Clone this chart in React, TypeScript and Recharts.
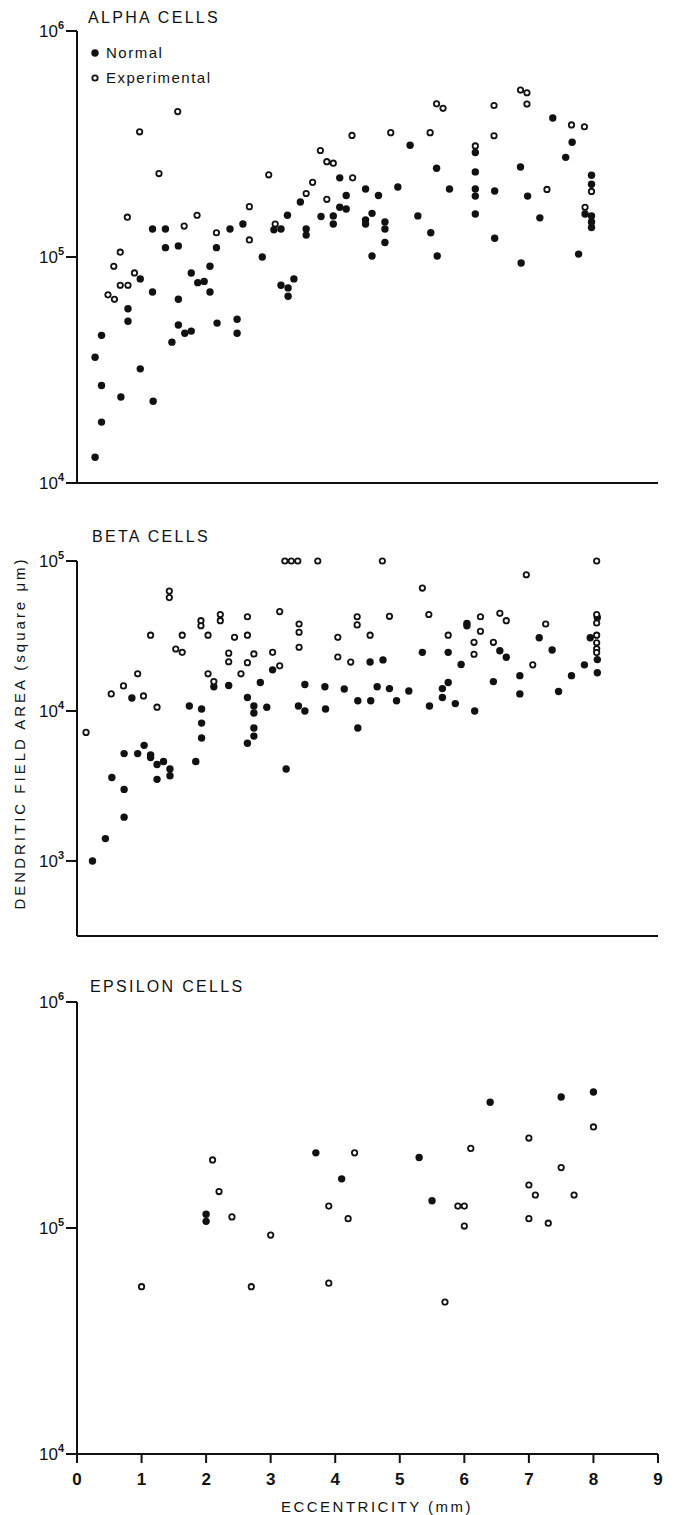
import { Scatter, ScatterChart, XAxis, YAxis } from 'recharts'

// eccentricity (mm), dendritic field area (square µm)
const alphaNormal: [number, number][] = [
  [0.28, 13000], [0.28, 36000], [0.38, 18600], [0.38, 27000], [0.38, 45000],
  [0.68, 24000], [0.79, 52000], [0.79, 59000], [0.98, 80000], [0.98, 32000],
  [1.17, 70000], [1.18, 23000], [1.17, 133000], [1.37, 133000], [1.37, 110000],
  [1.57, 112000], [1.47, 42000], [1.57, 50000], [1.57, 65000], [1.67, 46000],
  [1.77, 47000], [1.77, 85000], [1.87, 77000], [1.97, 78000], [2.06, 91000],
  [2.06, 70000], [2.16, 110000], [2.17, 51000], [2.37, 133000], [2.48, 53000],
  [2.48, 46000], [2.57, 140000], [2.87, 100000], [3.05, 132000], [3.16, 133000],
  [3.16, 75000], [3.27, 73000], [3.27, 67000], [3.36, 80000], [3.26, 153000],
  [3.46, 175000], [3.55, 133000], [3.55, 125000], [3.78, 151000], [3.97, 152000],
  [3.97, 140000], [4.07, 224000], [4.17, 187000], [4.07, 166000], [4.17, 163000],
  [4.47, 200000], [4.47, 146000], [4.47, 140000], [4.57, 156000], [4.57, 101000],
  [4.67, 187000], [4.77, 143000], [4.77, 133000], [4.77, 116000], [4.97, 204000],
  [5.16, 312000], [5.28, 152000], [5.48, 128000], [5.58, 101000], [5.57, 247000],
  [5.77, 200000], [6.17, 290000], [6.17, 238000], [6.17, 200000], [6.17, 186000],
  [6.17, 155000], [6.47, 196000], [6.47, 121000], [6.87, 250000], [6.88, 94000],
  [6.98, 186000], [7.17, 149000], [7.37, 412000], [7.57, 276000], [7.67, 322000],
  [7.77, 103000], [7.97, 230000], [7.97, 210000], [7.87, 155000], [7.97, 152000],
  [7.97, 143000], [7.97, 135000],
]

const alphaExperimental: [number, number][] = [
  [0.48, 68000], [0.58, 65000], [0.57, 91000], [0.67, 75000], [0.79, 75000],
  [0.67, 105000], [0.89, 85000], [0.78, 150000], [0.97, 358000], [1.27, 234000],
  [1.56, 440000], [1.66, 137000], [1.86, 153000], [2.16, 128000], [2.67, 167000],
  [2.67, 119000], [2.97, 231000], [3.07, 140000], [3.55, 191000], [3.65, 214000],
  [3.77, 296000], [3.87, 264000], [3.97, 260000], [3.87, 180000], [4.26, 345000],
  [4.27, 224000], [4.86, 355000], [5.47, 355000], [5.57, 476000], [5.67, 455000],
  [6.17, 310000], [6.46, 468000], [6.46, 344000], [6.87, 548000], [6.97, 533000],
  [6.97, 475000], [7.28, 199000], [7.66, 384000], [7.86, 377000], [7.97, 195000],
  [7.87, 166000],
]

const betaNormal: [number, number][] = [
  [0.24, 1000], [0.44, 1410], [0.54, 3600], [0.73, 3000], [0.73, 1960],
  [0.73, 5200], [0.94, 5200], [1.04, 5900], [1.14, 5100], [1.14, 4900],
  [1.24, 4400], [1.34, 4600], [1.24, 3500], [1.44, 4100], [1.44, 3700],
  [0.85, 12200], [1.74, 10800], [1.93, 10300], [1.93, 8300], [1.93, 6600],
  [1.84, 4600], [2.12, 14500], [2.35, 14800], [2.64, 12300], [2.74, 10800],
  [2.74, 9700], [2.74, 7700], [2.74, 6800], [2.64, 6100], [2.84, 15500],
  [2.94, 10600], [3.03, 18800], [3.24, 4100], [3.43, 10800], [3.53, 15000],
  [3.53, 10000], [3.84, 14500], [3.85, 10300], [4.14, 14000], [4.35, 11700],
  [4.35, 7700], [4.54, 21200], [4.55, 11700], [4.65, 14500], [4.74, 21900],
  [4.84, 14100], [4.95, 11700], [5.14, 13600], [5.35, 24600], [5.46, 10800],
  [5.66, 14100], [5.66, 12300], [5.75, 24600], [5.75, 15500], [5.86, 11200],
  [5.95, 20400], [6.04, 38400], [6.04, 37000], [6.16, 10000], [6.45, 15700],
  [6.55, 25200], [6.65, 22800], [6.86, 17200], [6.86, 13000], [7.16, 30800],
  [7.36, 25500], [7.46, 13500], [7.66, 17200], [7.86, 20300], [7.95, 30800],
  [8.06, 22000], [8.06, 18000], [8.06, 42000],
]

const betaExperimental: [number, number][] = [
  [0.14, 7200], [0.53, 13000], [0.72, 14700], [0.94, 17700], [1.03, 12600],
  [1.14, 32000], [1.24, 10600], [1.43, 63000], [1.43, 57000], [1.53, 25900],
  [1.63, 24600], [1.63, 32000], [1.92, 40000], [1.92, 37000], [2.03, 32000],
  [2.03, 17700], [2.12, 15700], [2.22, 44000], [2.22, 40000], [2.35, 24300],
  [2.35, 21300], [2.44, 31000], [2.54, 17700], [2.64, 42500], [2.64, 32000],
  [2.64, 21000], [2.74, 24000], [3.03, 24600], [3.14, 46000], [3.14, 20000],
  [3.22, 100000], [3.32, 100000], [3.42, 100000], [3.44, 38000], [3.44, 33500],
  [3.44, 26600], [3.73, 100000], [4.04, 31000], [4.04, 22900], [4.24, 21200],
  [4.34, 42500], [4.34, 37500], [4.54, 32000], [4.73, 100000], [4.84, 42800],
  [5.35, 66000], [5.45, 44000], [5.75, 32000], [6.15, 28700], [6.15, 23900],
  [6.25, 42500], [6.25, 34000], [6.45, 28700], [6.55, 44800], [6.65, 40000],
  [6.96, 81000], [7.06, 20300], [7.26, 38000], [8.05, 100000], [8.05, 44000],
  [8.05, 38600], [8.05, 32000], [8.05, 28500], [8.05, 26000], [8.05, 24500],
]

const epsilonNormal: [number, number][] = [
  [2.0, 115000], [2.0, 107000], [3.7, 215000], [4.1, 165000], [5.3, 205000],
  [5.5, 132000], [6.4, 360000], [7.5, 380000], [8.0, 400000],
]

const epsilonExperimental: [number, number][] = [
  [1.0, 55000], [2.1, 200000], [2.2, 145000], [2.4, 112000], [2.7, 55000],
  [3.0, 93000], [3.9, 57000], [3.9, 125000], [4.2, 110000], [4.3, 215000],
  [5.7, 47000], [5.9, 125000], [6.0, 125000], [6.0, 102000], [6.1, 225000],
  [7.0, 250000], [7.0, 155000], [7.1, 140000], [7.0, 110000], [7.3, 105000],
  [7.5, 185000], [7.7, 140000], [8.0, 280000],
]

const xTicks = [0, 1, 2, 3, 4, 5, 6, 7, 8, 9]
const wideTicks = [1e4, 1e5, 1e6]
const betaTicks = [1e3, 1e4, 1e5]

const FONT = '"Liberation Sans", Arial, sans-serif'
const INK = '#111'

const pts = (arr: [number, number][]) => arr.map(([x, y]) => ({ x, y }))

function FilledDot(props: any) {
  if (props.cx == null || props.cy == null) return <g />
  return <circle cx={props.cx} cy={props.cy} r={3.7} fill={INK} />
}

function OpenDot(props: any) {
  if (props.cx == null || props.cy == null) return <g />
  return (
    <circle cx={props.cx} cy={props.cy} r={2.7} fill="#fff" stroke={INK} strokeWidth={1.8} />
  )
}

function PowTick({ x, y, payload }: any) {
  const exp = Math.round(Math.log10(payload.value))
  return (
    <text x={x} y={y + 6} textAnchor="end" fontFamily={FONT} fontSize={17} fill={INK}>
      10
      <tspan dy={-8} fontSize={11} fontWeight={700}>
        {exp}
      </tspan>
    </text>
  )
}

function NumTick({ x, y, payload }: any) {
  return (
    <text x={x} y={y + 20} textAnchor="middle" fontFamily={FONT} fontSize={17} fontWeight={700} fill={INK}>
      {payload.value}
    </text>
  )
}

interface PanelProps {
  top: number
  height: number
  marginTop: number
  marginBottom: number
  xAxisHeight: number
  domain: [number, number]
  yTicks: number[]
  normal: [number, number][]
  experimental: [number, number][]
  showXLabels: boolean
}

function Panel(p: PanelProps) {
  return (
    <div style={{ position: 'absolute', left: 0, top: p.top }}>
      <ScatterChart
        width={676}
        height={p.height}
        margin={{ top: p.marginTop, right: 18, bottom: p.marginBottom, left: 17 }}
      >
        <XAxis
          type="number"
          dataKey="x"
          domain={[0, 9]}
          ticks={xTicks}
          interval={0}
          height={p.xAxisHeight}
          stroke={INK}
          axisLine={{ stroke: INK, strokeWidth: 2 }}
          tickLine={{ stroke: INK, strokeWidth: 2 }}
          tickSize={9}
          tick={p.showXLabels ? <NumTick /> : false}
        />
        <YAxis
          type="number"
          dataKey="y"
          scale="log"
          domain={p.domain}
          ticks={p.yTicks}
          interval={0}
          width={60}
          axisLine={{ stroke: INK, strokeWidth: 2 }}
          tickLine={{ stroke: INK, strokeWidth: 2 }}
          tickSize={11}
          tick={<PowTick />}
        />
        <Scatter data={pts(p.normal)} shape={FilledDot} isAnimationActive={false} />
        <Scatter data={pts(p.experimental)} shape={OpenDot} isAnimationActive={false} />
      </ScatterChart>
    </div>
  )
}

const titleStyle = { fontFamily: FONT, fontSize: 16, letterSpacing: 2.3, fill: INK }

export default function App() {
  return (
    <div style={{ position: 'absolute', left: 0, top: 0, width: 676, height: 1515, background: '#fff' }}>
      <Panel
        top={0}
        height={510}
        marginTop={31}
        marginBottom={7}
        xAxisHeight={20}
        domain={[1e4, 1e6]}
        yTicks={wideTicks}
        normal={alphaNormal}
        experimental={alphaExperimental}
        showXLabels={false}
      />
      <Panel
        top={500}
        height={460}
        marginTop={61}
        marginBottom={4}
        xAxisHeight={20}
        domain={[316, 1e5]}
        yTicks={betaTicks}
        normal={betaNormal}
        experimental={betaExperimental}
        showXLabels={false}
      />
      <Panel
        top={960}
        height={555}
        marginTop={42}
        marginBottom={21}
        xAxisHeight={40}
        domain={[1e4, 1e6]}
        yTicks={wideTicks}
        normal={epsilonNormal}
        experimental={epsilonExperimental}
        showXLabels
      />
      <svg
        width={676}
        height={1515}
        style={{ position: 'absolute', left: 0, top: 0, pointerEvents: 'none' }}
      >
        <text x={88} y={23} {...titleStyle}>ALPHA CELLS</text>
        <text x={92} y={542} {...titleStyle}>BETA CELLS</text>
        <text x={90} y={992} {...titleStyle}>EPSILON CELLS</text>
        <circle cx={95} cy={53} r={3.7} fill={INK} />
        <text x={106} y={58} fontFamily={FONT} fontSize={15} letterSpacing={1.5} fill={INK}>Normal</text>
        <circle cx={95} cy={78} r={2.7} fill="#fff" stroke={INK} strokeWidth={1.8} />
        <text x={106} y={83} fontFamily={FONT} fontSize={15} letterSpacing={1.5} fill={INK}>Experimental</text>
        <text
          x={0}
          y={0}
          transform="translate(25,733) rotate(-90)"
          textAnchor="middle"
          fontFamily={FONT}
          fontSize={15}
          letterSpacing={3}
          fill={INK}
        >
          DENDRITIC FIELD AREA (square μm)
        </text>
        <text x={377} y={1512} textAnchor="middle" fontFamily={FONT} fontSize={15} letterSpacing={2.5} fill={INK}>
          ECCENTRICITY (mm)
        </text>
      </svg>
    </div>
  )
}
